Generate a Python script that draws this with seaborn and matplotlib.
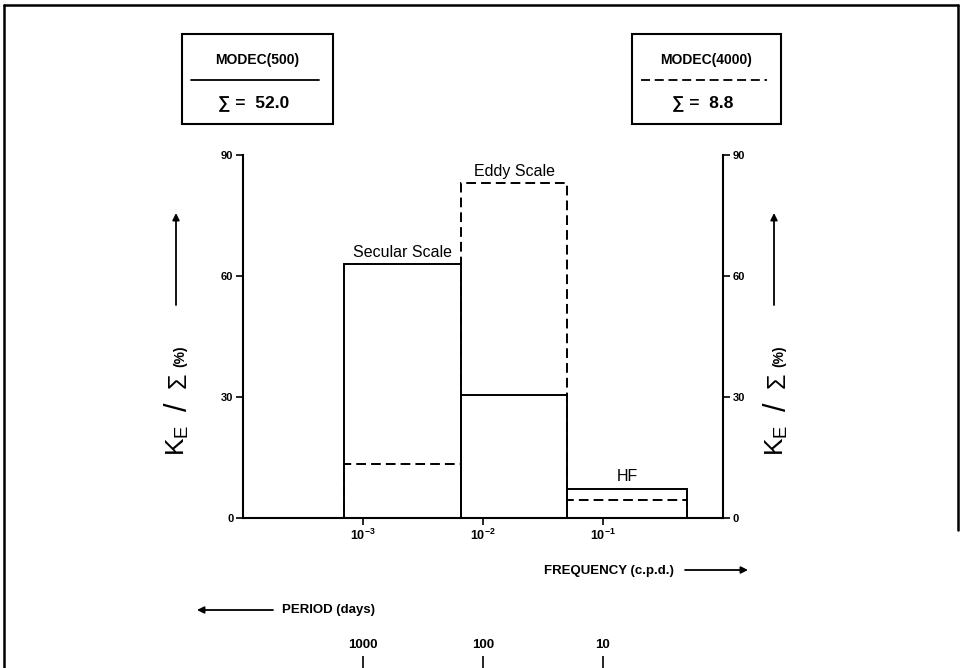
import numpy as np
import pandas as pd
import matplotlib
matplotlib.use("Agg")
import matplotlib.pyplot as plt
from matplotlib import ticker
from matplotlib.patches import Rectangle, FancyArrowPatch
from matplotlib.lines import Line2D
import seaborn as sns

# Frequency bands (log10 of cycles per day) bounding each scale
band_edges_log10 = [-3.16, -2.18, -1.30, -0.30]
band_names = ["Secular Scale", "Eddy Scale", "HF"]
# Kinetic energy share of each band, percent of the total
ke_modec500 = [63.0, 30.4, 7.3]
ke_modec4000 = [13.3, 83.1, 4.4]
total_modec500 = "52.0"
total_modec4000 = "8.8"
series_names = ["MODEC(500)", "MODEC(4000)"]
freq_ticks = [1e-3, 1e-2, 1e-1]
freq_tick_labels = [r"$\mathbf{10^{-3}}$", r"$\mathbf{10^{-2}}$", r"$\mathbf{10^{-1}}$"]
period_ticks = [1000, 100, 10]
y_ticks = [0, 30, 60, 90]

W, H = 960, 668
DASH = (0, (5, 2.6))

sns.set_theme(style="ticks")
plt.rcParams["font.family"] = ["Liberation Sans", "DejaVu Sans"]
plt.rcParams["text.color"] = "black"
plt.rcParams["axes.labelcolor"] = "black"
plt.rcParams["mathtext.fontset"] = "custom"
plt.rcParams["mathtext.rm"] = "Liberation Sans"
plt.rcParams["mathtext.bf"] = "Liberation Sans:bold"


def fp(x, y):
    """Figure-fraction coordinates from pixel position measured from the top-left."""
    return (x / W, 1 - y / H)


centers = [10 ** ((a + b) / 2) for a, b in zip(band_edges_log10[:-1], band_edges_log10[1:])]
df = pd.DataFrame({
    "band": band_names * 2,
    "freq": centers * 2,
    "ke": ke_modec500 + ke_modec4000,
    "series": [series_names[0]] * 3 + [series_names[1]] * 3,
})

fig = plt.figure(figsize=(W / 100, H / 100), dpi=100)
ax = fig.add_axes([243 / W, 150 / H, 480 / W, 363 / H])

for name, ls in zip(series_names, ["-", DASH]):
    sns.histplot(
        data=df[df["series"] == name], x="freq", weights="ke",
        bins=band_edges_log10, log_scale=True, element="bars", fill=False,
        color="black", linewidth=1.4, linestyle=ls, ax=ax,
    )

ax.set_xlim(1e-4, 1)
ax.set_ylim(0, 90)
ax.set_xlabel("")
ax.set_ylabel("")

# band labels sit just above the taller of the two bars
for c, name, a, b in zip(centers, band_names, ke_modec500, ke_modec4000):
    ax.annotate(name, xy=(c, max(a, b)), xytext=(0, 3), textcoords="offset points",
                ha="center", va="bottom", fontsize=11.5, color="black")

ax.xaxis.set_major_locator(ticker.FixedLocator(freq_ticks))
ax.xaxis.set_major_formatter(ticker.FixedFormatter(freq_tick_labels))
ax.xaxis.set_minor_locator(ticker.NullLocator())
ax.tick_params(axis="x", which="major", direction="out", length=5, width=1.2,
               labelsize=9, pad=2, color="black", labelcolor="black")
ax.set_yticks(y_ticks)
ax.tick_params(axis="y", left=True, right=True, labelleft=True, labelright=True,
               direction="out", length=5, width=1.2, labelsize=8, pad=2,
               color="black", labelcolor="black")
for lab in ax.get_yticklabels():
    lab.set_fontweight("bold")

ax.spines["top"].set_visible(False)
for s in ["left", "right", "bottom"]:
    ax.spines[s].set_linewidth(1.5)
    ax.spines[s].set_color("black")


def inv(v):
    v = np.asarray(v, dtype=float)
    with np.errstate(divide="ignore"):
        return 1.0 / v


# period axis (days) below the frequency axis
secax = ax.secondary_xaxis((518 - 668) / 363, functions=(inv, inv))
secax.set_alignment("top")
secax.spines["top"].set_visible(False)
secax.spines["bottom"].set_visible(False)
secax.xaxis.set_major_locator(ticker.FixedLocator(period_ticks))
secax.xaxis.set_minor_locator(ticker.NullLocator())
secax.xaxis.set_major_formatter(ticker.FormatStrFormatter("%d"))
secax.tick_params(axis="x", which="major", direction="out", length=9, width=1.2,
                  labelsize=9.5, pad=3, color="black", labelcolor="black")
for lab in secax.get_xticklabels():
    lab.set_fontweight("bold")

# axis captions and arrows
fig.text(*fp(609, 571), "FREQUENCY (c.p.d.)", ha="center", va="center",
         fontsize=9.5, fontweight="bold")
fig.text(*fp(328, 610), "PERIOD (days)", ha="center", va="center",
         fontsize=9.5, fontweight="bold")


def arrow(p0, p1):
    fig.add_artist(FancyArrowPatch(fp(*p0), fp(*p1), transform=fig.transFigure,
                                   arrowstyle="-|>", mutation_scale=10, lw=1.3,
                                   color="black", shrinkA=0, shrinkB=0))


arrow((685, 570), (748, 570))
arrow((273, 610), (197, 610))

# y-axis captions on both sides
for xc, ar in [(178, 176), (777, 774)]:
    fig.text(*fp(xc, 440), r"$\mathregular{K_E}$", rotation=90, ha="center",
             va="center", fontsize=19)
    fig.text(*fp(xc + 1, 407), "/", rotation=90, ha="center", va="center",
             fontsize=22)
    fig.text(*fp(xc + 1, 380), "Σ", rotation=90, ha="center", va="center",
             fontsize=18)
    fig.text(*fp(xc + 2, 356), "(%)", rotation=90, ha="center", va="center",
             fontsize=10, fontweight="bold")
    arrow((ar, 305), (ar, 213))

# legend boxes
for (x0, x1), name, total, ls in zip([(182, 333), (632, 781)], series_names,
                                     [total_modec500, total_modec4000], ["-", DASH]):
    xy = fp(x0, 124)
    fig.add_artist(Rectangle(xy, (x1 - x0) / W, 90 / H, transform=fig.transFigure,
                             fill=False, lw=1.5, edgecolor="black"))
    xm = (x0 + x1) / 2
    fig.text(*fp(xm, 60), name, ha="center", va="center", fontsize=10,
             fontweight="bold")
    l0, l1 = fp(x0 + 9, 79.5), fp(x1 - 14, 79.5)
    fig.add_artist(Line2D([l0[0], l1[0]], [l0[1], l1[1]], transform=fig.transFigure,
                          color="black", lw=1.3, linestyle=ls))
    fig.text(*fp(xm - 4, 103), f"∑ =  {total}", ha="center", va="center",
             fontsize=12.5, fontweight="bold")

# outer frame (open at the bottom)
for (a, b) in [((4, 5), (958, 5)), ((4, 5), (4, 668)), ((958, 5), (958, 530))]:
    pa, pb = fp(*a), fp(*b)
    fig.add_artist(Line2D([pa[0], pb[0]], [pa[1], pb[1]], transform=fig.transFigure,
                          color="black", lw=1.8))

fig.savefig("out.png", dpi=100, facecolor="white")
